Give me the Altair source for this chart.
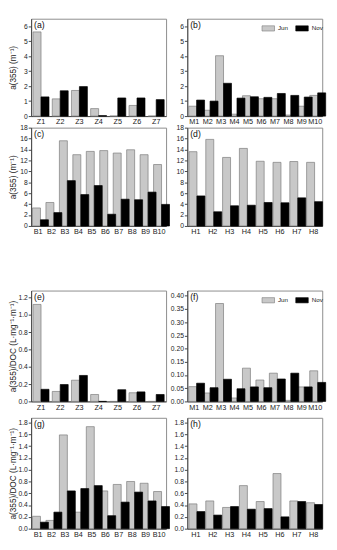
import altair as alt
import pandas as pd

months = ["Jun", "Nov"]

sites_z = ["Z1", "Z2", "Z3", "Z4", "Z5", "Z6", "Z7"]
sites_m = ["M1", "M2", "M3", "M4", "M5", "M6", "M7", "M8", "M9", "M10"]
sites_b = ["B1", "B2", "B3", "B4", "B5", "B6", "B7", "B8", "B9", "B10"]
sites_h = ["H1", "H2", "H3", "H4", "H5", "H6", "H7", "H8"]

a_jun = [5.62, 1.15, 1.71, 0.50, 0.0, 0.71, 0.0]
a_nov = [1.28, 1.69, 1.97, 0.03, 1.21, 1.21, 1.10]
b_jun = [0.66, 0.39, 4.03, 0.13, 1.36, 1.16, 1.16, 0.07, 0.66, 1.38]
b_nov = [1.07, 1.00, 2.19, 1.20, 1.29, 1.25, 1.51, 1.38, 1.27, 1.55]
c_jun = [3.3, 4.3, 15.6, 13.05, 13.65, 13.8, 13.35, 13.95, 13.05, 11.25]
c_nov = [1.14, 2.45, 8.3, 5.75, 7.4, 2.15, 4.9, 4.8, 6.2, 3.95]
d_jun = [13.6, 15.85, 12.55, 14.2, 11.85, 11.65, 11.8, 11.65]
d_nov = [5.5, 2.6, 3.7, 3.8, 4.3, 4.25, 5.15, 4.45]
e_jun = [1.12, 0.115, 0.245, 0.08, 0.0, 0.10, 0.0]
e_nov = [0.14, 0.195, 0.30, 0.0, 0.135, 0.11, 0.08]
f_jun = [0.056, 0.032, 0.371, 0.013, 0.126, 0.081, 0.107, 0.004, 0.055, 0.116]
f_nov = [0.069, 0.052, 0.084, 0.048, 0.055, 0.052, 0.085, 0.107, 0.055, 0.072]
g_jun = [0.21, 0.14, 1.59, 0.28, 1.73, 0.64, 0.75, 0.80, 0.77, 0.63]
g_nov = [0.11, 0.28, 0.64, 0.68, 0.73, 0.22, 0.45, 0.62, 0.47, 0.375]
h_jun = [0.42, 0.47, 0.36, 0.73, 0.46, 0.935, 0.47, 0.44]
h_nov = [0.29, 0.23, 0.375, 0.33, 0.34, 0.20, 0.46, 0.41]

ticks_a = [0, 1, 2, 3, 4, 5, 6]
ticks_c = [0, 2, 4, 6, 8, 10, 12, 14, 16, 18]
ticks_e = [0.0, 0.2, 0.4, 0.6, 0.8, 1.0, 1.2]
ticks_f = [0.0, 0.05, 0.10, 0.15, 0.20, 0.25, 0.30, 0.35, 0.40]
ticks_g = [0.0, 0.2, 0.4, 0.6, 0.8, 1.0, 1.2, 1.4, 1.6, 1.8]

title_abs = "a(355) (m⁻¹)"
title_doc = "a(355)/DOC (L·mg⁻¹·m⁻¹)"

FONT = "Liberation Sans"


def panel(label, sites, jun, nov, ymax, yticks, yfmt, w, h, ytitle=None, legend=False):
    df = pd.DataFrame({
        "site": sites + sites,
        "month": ["Jun"] * len(sites) + ["Nov"] * len(sites),
        "value": jun + nov,
    })
    left = ytitle is not None
    yaxis_kw = dict(values=yticks, format=yfmt, grid=False, tickSize=3,
                    labelPadding=1, labelFontSize=7, title=ytitle)
    if left:
        yaxis_kw.update(minExtent=13, maxExtent=13, titlePadding=1,
                        titleFontSize=8.5, titleFontWeight="normal")
    if legend:
        leg = alt.Legend(title=None, orient="none", legendX=78, legendY=4,
                         direction="horizontal", padding=0,
                         symbolType="M-1.2,-0.5H1.2V0.5H-1.2Z", symbolSize=117,
                         symbolStrokeWidth=0.6, symbolStrokeColor="#777777",
                         labelFontSize=6.5, labelOffset=4, columnPadding=6)
    else:
        leg = None
    bars = alt.Chart(df).mark_bar(strokeWidth=0.7).encode(
        x=alt.X("site:N", sort=sites,
                scale=alt.Scale(paddingInner=0.17, paddingOuter=0.1),
                axis=alt.Axis(title=None, labelAngle=0, ticks=False,
                              labelPadding=2, labelFontSize=7.5)),
        xOffset=alt.XOffset("month:N", sort=months, scale=alt.Scale(paddingInner=0)),
        y=alt.Y("value:Q", scale=alt.Scale(domain=[0, ymax], nice=False, zero=True),
                axis=alt.Axis(**yaxis_kw)),
        color=alt.Color("month:N", sort=months,
                        scale=alt.Scale(domain=months, range=["#c8c8c8", "#000000"]),
                        legend=leg),
        stroke=alt.Stroke("month:N", sort=months,
                          scale=alt.Scale(domain=months, range=["#7a7a7a", "#000000"]),
                          legend=None),
    )
    lab = alt.Chart(pd.DataFrame({"t": [label]})).mark_text(
        align="left", baseline="middle", fontSize=9, font=FONT, color="#111"
    ).encode(x=alt.value(3), y=alt.value(7), text="t:N")
    return alt.layer(bars, lab).properties(width=w, height=h)


W = 140
pa = panel("(a)", sites_z, a_jun, a_nov, 6.5, ticks_a, "d", W, 101, ytitle=title_abs)
pb = panel("(b)", sites_m, b_jun, b_nov, 6.5, ticks_a, "d", W, 101, legend=True)
pc = panel("(c)", sites_b, c_jun, c_nov, 18, ticks_c, "d", W, 102, ytitle=title_abs)
pd_ = panel("(d)", sites_h, d_jun, d_nov, 18, ticks_c, "d", W, 102)
pe = panel("(e)", sites_z, e_jun, e_nov, 1.28, ticks_e, ".1f", W, 115, ytitle=title_doc)
pf = panel("(f)", sites_m, f_jun, f_nov, 0.42, ticks_f, ".2f", W, 115, legend=True)
pg = panel("(g)", sites_b, g_jun, g_nov, 1.88, ticks_g, ".1f", W, 115, ytitle=title_doc)
ph = panel("(h)", sites_h, h_jun, h_nov, 1.88, ticks_g, ".1f", W, 115)

RES = dict(color="independent", stroke="independent", y="independent", x="independent")


def row(l, r):
    return alt.hconcat(l, r, spacing=22, bounds="flush").resolve_scale(**RES)


top = alt.vconcat(row(pa, pb), row(pc, pd_), spacing=-3).resolve_scale(**RES)
bottom = alt.vconcat(row(pe, pf), row(pg, ph), spacing=6).resolve_scale(**RES)

chart = alt.vconcat(top, bottom, spacing=56).resolve_scale(**RES).properties(
    padding={"left": 0, "top": 0, "right": 2, "bottom": 2}
).configure(font=FONT).configure_view(
    stroke="#8a8a8a", strokeWidth=1
).configure_axis(
    domainColor="#444444", tickColor="#444444", labelColor="#222222",
    titleColor="#222222", labelFont=FONT, titleFont=FONT
).configure_legend(labelFont=FONT, labelColor="#222222")

chart.save("out.html", embed_options={"renderer": "svg", "actions": False})
